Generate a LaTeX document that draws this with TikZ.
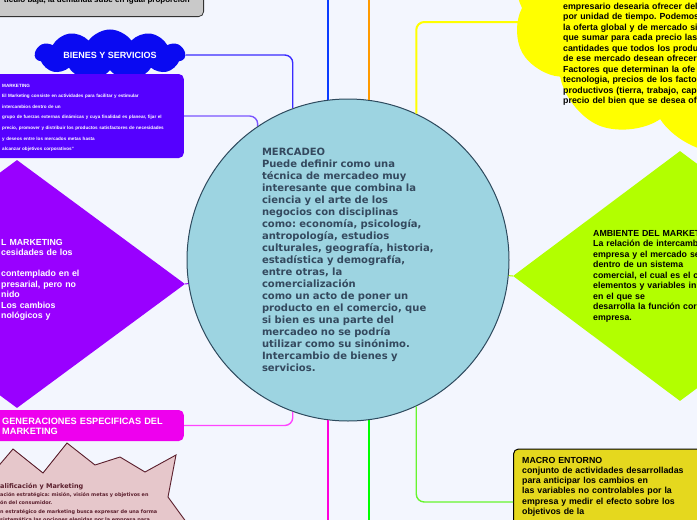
\documentclass[tikz,border=0pt]{standalone}
\usepackage{fontspec}
\setmainfont{Liberation Sans}
\newfontfamily\dejavu{DejaVu Sans}
\usepackage{xcolor}
\usepackage{tikz}
\usetikzlibrary{shapes.geometric, shapes.symbols, positioning}
\frenchspacing

\definecolor{fondo}{HTML}{F3F6FE}
\definecolor{celeste}{HTML}{9DD4E1}
\definecolor{pizarra}{HTML}{2E4A5E}
\definecolor{textocentro}{HTML}{34495E}
\definecolor{azulnube}{HTML}{0A0AF2}
\definecolor{moradocaja}{HTML}{5500FF}
\definecolor{violeta}{HTML}{9900FF}
\definecolor{magentacaja}{HTML}{EE00EE}
\definecolor{rosapalido}{HTML}{E6C7CB}
\definecolor{granate}{HTML}{5A1E2C}
\definecolor{amarillo}{HTML}{FFFF00}
\definecolor{lima}{HTML}{B2FF00}
\definecolor{mostaza}{HTML}{E5D81E}
\definecolor{gris}{HTML}{C9C9C9}
\definecolor{ramaazul}{HTML}{3A2BFF}
\definecolor{ramamorada}{HTML}{7A55FF}
\definecolor{azulfuerte}{HTML}{0A3CFF}
\definecolor{naranja}{HTML}{FF9A00}
\definecolor{ramarosa}{HTML}{FF44FF}
\definecolor{rosafuerte}{HTML}{FF00DD}
\definecolor{verde}{HTML}{00FF00}
\definecolor{verdeclaro}{HTML}{66F52E}

\begin{document}
\begin{tikzpicture}[
  x=1pt, y=-1pt,
  txt/.style = {inner sep=0pt, anchor=base west, align=left},
  negrita/.style = {font=\bfseries\fontsize{8.8}{10.5}\selectfont},
  rama/.style = {rounded corners=8pt, line width=1.4pt},
  tronco/.style = {line width=2.5pt}
]
  \useasboundingbox (0,0) rectangle (697,520);
  \fill[fondo] (0,0) rectangle (697,520);
  \clip (0,0) rectangle (697,520);

  % free ends of the straight branches
  \coordinate (azulfin)    at (328,0);
  \coordinate (naranjafin) at (369,0);
  \coordinate (rosafin)    at (328,520);
  \coordinate (verdefin)   at (369,520);

  % left side
  \node[draw=black!80, fill=gris, rounded corners=5pt, line width=0.8pt,
        minimum width=224pt, minimum height=60pt, anchor=south east] (demanda) at (204,17) {};
  \node[txt, anchor=base east, font=\bfseries\fontsize{8}{10}\selectfont] (demandatxt) at (190,2.5)
    {ticulo baja, la demanda sube en igual proporción};

  \node[cloud, cloud puffs=11, cloud puff arc=110, aspect=4, fill=azulnube, text=white,
        minimum width=150pt, minimum height=38pt, inner sep=0pt,
        font=\bfseries\fontsize{9}{11}\selectfont] (bienes) at (110,55) {BIENES Y SERVICIOS};

  \node[fill=moradocaja, rounded corners=5pt, minimum width=200pt, minimum height=84pt,
        anchor=east] (definicion) at (184,116) {};
  \node[txt, text=white, text width=190pt, font=\bfseries\fontsize{4.6}{10.65}\selectfont]
    (definiciontxt) at (2,87)
    {MARKETING\\
     El Marketing consiste en actividades para facilitar y estimular\\
     intercambios dentro de un\\
     grupo de fuerzas externas dinámicas y cuya finalidad es planear, fijar el\\
     precio, promover y distribuir los productos satisfactores de necesidades\\
     y deseos entre los mercados metas hasta\\
     alcanzar objetivos corporativos"};

  \node[diamond, fill=violeta, minimum width=336pt, minimum height=248pt, inner sep=0pt]
    (marketing) at (17,284) {};
  \node[txt, negrita, text=white, text width=100pt] (marketingtxt) at (1,245)
    {L MARKETING\\cesidades de los\\[10.5pt]contemplado en el\\presarial, pero no\\nido\\Los cambios\\nológicos y};

  \node[fill=magentacaja, rounded corners=5pt, minimum width=200pt, minimum height=31pt,
        anchor=east] (generaciones) at (184,425.5) {};
  \node[txt, text=white, text width=180pt, font=\bfseries\fontsize{9.2}{10.5}\selectfont]
    (generacionestxt) at (2,424) {GENERACIONES ESPECIFICAS DEL\\MARKETING};

  \draw[fill=rosapalido, draw=granate, line width=0.9pt]
    (-10,476) -- (13,449) -- (43,473) -- (67,443) -- (95,465) -- (120,457) -- (145,472)
    -- (176,455) -- (168,497) -- (192,530) -- (-10,530) -- cycle;
  \node[txt, text=granate, font=\dejavu\bfseries\fontsize{6.5}{8}\selectfont]
    (planificacion) at (0,488) {alificación y Marketing};
  \node[txt, text=granate, text width=190pt, font=\dejavu\bfseries\fontsize{4.9}{8.4}\selectfont]
    (planificaciontxt) at (0,496.5)
    {ación estratégica: misión, visión metas y objetivos en\\
     ón del consumidor.\\
     n estratégico de marketing busca expresar de una forma\\
     sistemática las opciones elegidas por la empresa para};

  % right side
  \node[cloud, cloud puffs=10, cloud puff arc=115, fill=amarillo, minimum width=420pt,
        minimum height=290pt, inner sep=0pt] (oferta) at (722,8) {};
  \node[txt, negrita, text width=200pt] (ofertatxt) at (563,9)
    {empresario desearia ofrecer del\\
     por unidad de tiempo. Podemos\\
     la oferta global y de mercado si\\
     que sumar para cada precio las\\
     cantidades que todos los produ\\
     de ese mercado desean ofrecer\\
     Factores que determinan la ofe\\
     tecnologia, precios de los facto\\
     productivos (tierra, trabajo, cap\\
     precio del bien que se desea of};

  \node[diamond, fill=lima, minimum width=334pt, minimum height=250pt, inner sep=0pt]
    (ambiente) at (680,276) {};
  \node[txt, negrita, text width=200pt] (ambientetxt) at (593,236)
    {AMBIENTE DEL MARKET\\
     La relación de intercamb\\
     empresa y el mercado se\\
     dentro de un sistema\\
     comercial, el cual es el c\\
     elementos y variables in\\
     en el que se\\
     desarrolla la función cor\\
     empresa.};

  \node[draw=black, line width=1pt, fill=mostaza, rounded corners=5pt,
        minimum width=200pt, minimum height=106pt, anchor=west] (entorno) at (513,502) {};
  \node[txt, text width=180pt, font=\bfseries\fontsize{8.8}{10.3}\selectfont] (entornotxt) at (522,463)
    {MACRO ENTORNO\\
     conjunto de actividades desarrolladas\\
     para anticipar los cambios en\\
     las variables no controlables por la\\
     empresa y medir el efecto sobre los\\
     objetivos de la};

  % centre
  \node[circle, draw=pizarra, line width=1pt, fill=celeste, minimum size=322pt,
        text=textocentro, text width=172pt, align=left,
        font=\dejavu\bfseries\fontsize{10}{12}\selectfont] (mercadeo) at (348,260)
    {MERCADEO\\
     Puede definir como una\\
     técnica de mercadeo muy\\
     interesante que combina la\\
     ciencia y el arte de los\\
     negocios con disciplinas\\
     como: economía, psicología,\\
     antropología, estudios\\
     culturales, geografía, historia,\\
     estadística y demografía,\\
     entre otras, la\\
     comercialización\\
     como un acto de poner un\\
     producto en el comercio, que\\
     si bien es una parte del\\
     mercadeo no se podría\\
     utilizar como su sinónimo.\\
     Intercambio de bienes y\\
     servicios.};

  % branches
  \draw[rama, draw=ramaazul]   (bienes.east) -| (mercadeo.110);
  \draw[rama, draw=ramamorada] (definicion.east) -| (mercadeo.124);
  \draw[tronco, draw=azulfuerte] (azulfin) -- (azulfin |- mercadeo.97);
  \draw[tronco, draw=naranja]    (naranjafin) -- (naranjafin |- mercadeo.83);
  \draw[rama, draw=amarillo, line width=2pt] (mercadeo.65) |- (oferta.west |- 0,22);
  \draw[violeta, line width=1pt] (marketing.east) -- (mercadeo);
  \draw[lima, line width=1pt]    (ambiente.west) -- (mercadeo);
  \draw[rama, draw=ramarosa]   (generaciones.east) -| (mercadeo.250);
  \draw[tronco, draw=rosafuerte] (rosafin) -- (rosafin |- mercadeo.263);
  \draw[tronco, draw=verde]      (verdefin) -- (verdefin |- mercadeo.277);
  \draw[rama, draw=verdeclaro] (mercadeo.295) |- (entorno.west);
\end{tikzpicture}
\end{document}
